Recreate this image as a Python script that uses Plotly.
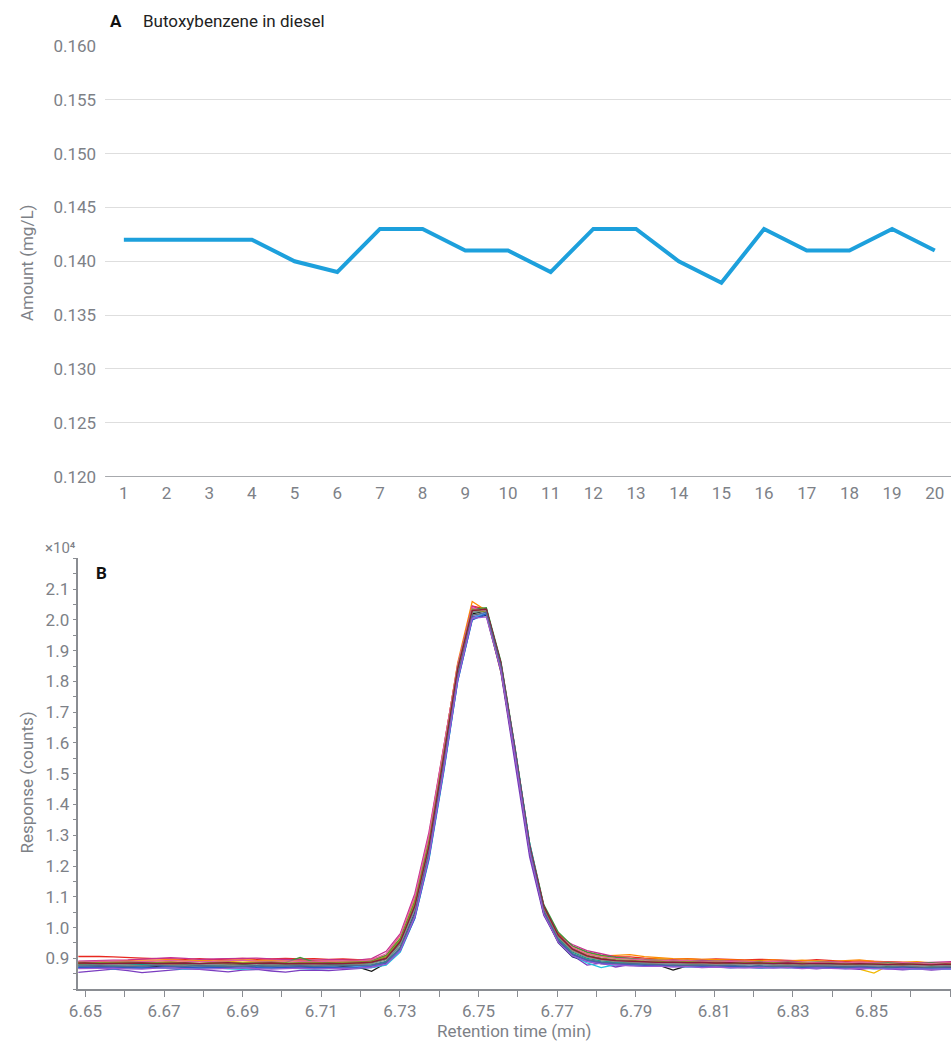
import plotly.graph_objects as go

# ---------------- Panel A data ----------------
injections = list(range(1, 21))
amount_mg_L = [0.142, 0.142, 0.142, 0.142, 0.140, 0.139, 0.143, 0.143, 0.141, 0.141,
               0.139, 0.143, 0.143, 0.140, 0.138, 0.143, 0.141, 0.141, 0.143, 0.141]
amount_ticks = [0.120, 0.125, 0.130, 0.135, 0.140, 0.145, 0.150, 0.155, 0.160]

# ---------------- Panel B data ----------------
retention_min = [6.6462, 6.6498, 6.6535, 6.6571, 6.6608, 6.6644, 6.6681, 6.6717, 6.6754, 6.6790,
                 6.6827, 6.6863, 6.6900, 6.6936, 6.6973, 6.7009, 6.7046, 6.7082, 6.7119, 6.7155,
                 6.7192, 6.7228, 6.7265, 6.7301, 6.7338, 6.7374, 6.7411, 6.7447, 6.7484, 6.7520,
                 6.7557, 6.7593, 6.7630, 6.7666, 6.7703, 6.7739, 6.7776, 6.7812, 6.7849, 6.7885,
                 6.7922, 6.7958, 6.7995, 6.8031, 6.8068, 6.8104, 6.8141, 6.8177, 6.8214, 6.8250,
                 6.8287, 6.8323, 6.8360, 6.8396, 6.8433, 6.8469, 6.8506, 6.8542, 6.8579, 6.8615,
                 6.8652, 6.8688, 6.8725]

resp_01 = [9060, 9070, 9060, 9050, 9040, 9010, 8990, 8980, 8970, 8990, 8960, 8980, 9000, 8970, 8990, 9000, 8980, 8990, 8970, 8980, 8960,
           8950, 9080,
           9600, 10850, 12800, 15600, 18450, 20450, 20350, 18550, 15750, 12650, 10700, 9800, 9400, 9200, 9100, 9060,
           9050, 9010, 9000, 8970, 8990, 8960, 8980, 8970, 8950, 8970, 8960, 8940, 8920, 8960, 8930, 8900, 8920, 8900, 8880, 8870, 8860, 8850, 8860, 8840]
resp_02 = [8860, 8880, 8900, 8910, 8930, 8950, 8940, 8960, 8930, 8940, 8920, 8950, 8960, 8930, 8940, 8920, 8950, 8930, 8920, 8910, 8940,
           8970, 9100,
           9750, 11000, 12950, 15750, 18600, 20600, 20300, 18500, 15700, 12600, 10650, 9750, 9350, 9150, 9080, 9100,
           9120, 9060, 9020, 8990, 8980, 8970, 8950, 8960, 8940, 8930, 8950, 8920, 8940, 8910, 8900, 8930, 8950, 8900, 8880, 8870, 8890, 8850, 8860, 8840]
resp_03 = [8820, 8840, 8870, 8880, 8900, 8890, 8880, 8900, 8920, 8910, 8890, 8900, 8880, 8900, 8910, 8920, 8930, 8890, 8900, 8880, 8900,
           8920, 9050,
           9650, 10950, 13000, 15800, 18550, 20200, 20150, 18300, 15500, 12450, 10600, 9700, 9300, 9150, 9070, 9020,
           8990, 8960, 8980, 8950, 8930, 8940, 8920, 8900, 8910, 8890, 8880, 8900, 8870, 8860, 8880, 8820, 8650, 8520, 8760, 8860, 8870, 8850, 8830, 8820]
resp_04 = [8900, 8920, 8930, 8940, 8950, 8970, 8990, 9020, 9000, 8970, 8980, 8990, 9020, 9010, 8980, 8960, 8950, 8940, 8960, 8950, 8940,
           8990, 9230,
           9800, 11100, 13100, 15800, 18500, 20450, 20250, 18400, 15550, 12500, 10600, 9700, 9450, 9250, 9150, 9050,
           9000, 8960, 8930, 8950, 8920, 8940, 8910, 8920, 8900, 8890, 8900, 8920, 8880, 8870, 8890, 8860, 8850, 8870, 8880, 8860, 8850, 8870, 8880, 8900]
resp_05 = [8520, 8560, 8620, 8650, 8600, 8540, 8580, 8630, 8660, 8640, 8600, 8560, 8620, 8640, 8590, 8550, 8610, 8620, 8600, 8630, 8650,
           8700, 8820,
           9350, 10500, 12500, 15300, 18200, 20100, 20200, 18300, 15400, 12300, 10400, 9550, 9100, 8780, 8850, 8720,
           8800, 8760, 8740, 8780, 8730, 8700, 8720, 8690, 8710, 8680, 8700, 8720, 8690, 8660, 8700, 8680, 8640, 8690, 8660, 8630, 8660, 8620, 8650, 8680]
resp_06 = [8700, 8680, 8690, 8720, 8700, 8680, 8710, 8730, 8700, 8690, 8720, 8700, 8680, 8710, 8690, 8700, 8720, 8680, 8700, 8710, 8690,
           8720, 8820,
           9300, 10400, 12350, 15150, 18100, 20050, 20150, 18350, 15550, 12450, 10450, 9500, 9050, 8900, 8830, 8800,
           8790, 8760, 8780, 8750, 8740, 8760, 8730, 8720, 8740, 8710, 8720, 8700, 8730, 8710, 8690, 8720, 8700, 8680, 8700, 8690, 8670, 8700, 8680, 8690]
resp_07 = [8750, 8760, 8730, 8740, 8770, 8760, 8740, 8750, 8780, 8760, 8740, 8770, 8750, 8730, 8760, 8780, 8750, 8740, 8760, 8740, 8720,
           8580, 8850,
           9350, 10450, 12400, 15250, 18200, 20200, 20300, 18500, 15700, 12550, 10500, 9550, 9150, 8950, 8880, 8850,
           8830, 8800, 8780, 8620, 8760, 8740, 8750, 8730, 8720, 8740, 8710, 8730, 8720, 8700, 8720, 8710, 8690, 8700, 8720, 8700, 8690, 8710, 8700, 8720]
resp_08 = [8850, 8870, 8860, 8880, 8850, 8840, 8860, 8870, 8850, 8830, 8860, 8870, 8840, 8850, 8870, 8860, 9030, 8880, 8860, 8870, 8880,
           8930, 9100,
           9650, 10850, 12800, 15600, 18450, 20350, 20400, 18650, 15850, 12750, 10750, 9850, 9400, 9200, 9100, 9030,
           8990, 8960, 8940, 8920, 8930, 8900, 8910, 8890, 8880, 8900, 8870, 8880, 8860, 8880, 8870, 8850, 8860, 8840, 8860, 8850, 8830, 8850, 8840, 8820]
resp_09 = [8800, 8820, 8790, 8810, 8830, 8800, 8790, 8820, 8810, 8790, 8800, 8820, 8800, 8780, 8810, 8820, 8800, 8790, 8810, 8800, 8820,
           8850, 8980,
           9500, 10700, 12650, 15500, 18350, 20300, 20350, 18600, 15800, 12700, 10700, 9750, 9300, 9080, 8980, 8930,
           8900, 8880, 8870, 8860, 8850, 8870, 8840, 8850, 8830, 8840, 8820, 8830, 8810, 8820, 8800, 8820, 8790, 8810, 8800, 8780, 8790, 8800, 8770, 8790]
resp_10 = [8790, 8780, 8800, 8770, 8790, 8810, 8780, 8760, 8790, 8800, 8770, 8790, 8780, 8760, 8790, 8770, 8780, 8800, 8770, 8790, 8780,
           8800, 8900,
           9450, 10600, 12550, 15400, 18300, 20250, 20300, 18550, 15750, 12650, 10600, 9650, 9200, 9000, 8920, 8880,
           8870, 8850, 8830, 8840, 8820, 8800, 8820, 8790, 8800, 8810, 8780, 8790, 8770, 8790, 8780, 8760, 8770, 8780, 8750, 8760, 8770, 8740, 8760, 8750]
resp_11 = [8680, 8700, 8690, 8660, 8680, 8700, 8690, 8670, 8650, 8680, 8700, 8660, 8640, 8670, 8690, 8680, 8660, 8650, 8670, 8680, 8690,
           8700, 8780,
           9200, 10300, 12200, 15000, 18000, 20000, 20200, 18500, 15800, 12750, 10650, 9600, 9100, 8850, 8700, 8800,
           8780, 8760, 8740, 8750, 8720, 8740, 8710, 8700, 8720, 8690, 8710, 8700, 8680, 8700, 8690, 8670, 8690, 8660, 8680, 8670, 8650, 8670, 8660, 8640]
resp_12 = [8720, 8740, 8710, 8730, 8750, 8720, 8700, 8730, 8740, 8710, 8720, 8740, 8700, 8720, 8710, 8730, 8690, 8720, 8740, 8710, 8730,
           8760, 8860,
           9280, 10350, 12300, 15100, 18050, 20050, 20250, 18550, 15800, 12700, 10600, 9600, 9150, 8950, 8870, 8840,
           8810, 8790, 8780, 8760, 8770, 8740, 8750, 8730, 8720, 8740, 8710, 8720, 8700, 8710, 8690, 8700, 8680, 8690, 8670, 8680, 8660, 8670, 8650, 8660]
resp_13 = [8700, 8710, 8730, 8720, 8700, 8690, 8710, 8730, 8710, 8690, 8700, 8720, 8730, 8700, 8690, 8710, 8720, 8700, 8710, 8690, 8700,
           8740, 8840,
           9250, 10300, 12250, 15050, 18000, 20000, 20200, 18450, 15650, 12550, 10550, 9580, 9120, 8930, 8850, 8810,
           8790, 8770, 8780, 8750, 8760, 8740, 8750, 8730, 8740, 8720, 8730, 8710, 8720, 8700, 8710, 8690, 8700, 8710, 8690, 8700, 8680, 8690, 8700, 8680]
resp_14 = [8820, 8840, 8830, 8810, 8830, 8850, 8820, 8800, 8830, 8820, 8840, 8810, 8820, 8840, 8810, 8830, 8820, 8800, 8830, 8840, 8820,
           8880, 9020,
           9550, 10750, 12700, 15550, 18400, 20300, 20300, 18500, 15700, 12600, 10650, 9700, 9250, 9050, 8960, 8910,
           8880, 8860, 8850, 8830, 8840, 8820, 8830, 8810, 8800, 8820, 8790, 8800, 8780, 8800, 8770, 8790, 8780, 8760, 8780, 8770, 8750, 8770, 8760, 8740]
resp_15 = [8780, 8770, 8790, 8800, 8780, 8760, 8790, 8780, 8770, 8790, 8800, 8780, 8760, 8780, 8790, 8770, 8780, 8790, 8770, 8780, 8790,
           8830, 8950,
           9450, 10600, 12600, 15450, 18350, 20250, 20300, 18550, 15750, 12650, 10650, 9700, 9250, 9050, 8950, 8900,
           8870, 8860, 8840, 8830, 8840, 8810, 8820, 8800, 8810, 8790, 8800, 8780, 8800, 8790, 8770, 8780, 8760, 8780, 8770, 8750, 8770, 8760, 8740, 8750]
resp_16 = [8900, 8890, 8910, 8920, 8900, 8890, 8910, 8930, 8910, 8890, 8900, 8920, 8940, 8910, 8900, 8920, 8910, 8890, 8910, 8900, 8910,
           8950, 9150,
           9750, 11000, 13000, 15750, 18550, 20400, 20250, 18400, 15600, 12550, 10650, 9750, 9350, 9150, 9050, 9000,
           8970, 8950, 8940, 8920, 8930, 8900, 8910, 8890, 8900, 8880, 8900, 8870, 8880, 8860, 8880, 8850, 8870, 8860, 8840, 8860, 8850, 8830, 8850, 8840]
resp_17 = [8860, 8870, 8850, 8860, 8880, 8860, 8850, 8870, 8860, 8840, 8860, 8870, 8850, 8860, 8880, 8850, 8860, 8870, 8850, 8860, 8870,
           8900, 9050,
           9600, 10800, 12750, 15600, 18450, 20350, 20250, 18450, 15650, 12600, 10650, 9750, 9300, 9100, 9010, 8960,
           8930, 8910, 8900, 8880, 8890, 8870, 8880, 8860, 8870, 8850, 8860, 8840, 8850, 8830, 8850, 8820, 8840, 8830, 8810, 8830, 8820, 8800, 8820, 8810]
resp_18 = [8840, 8850, 8830, 8840, 8860, 8850, 8830, 8840, 8850, 8830, 8840, 8860, 8830, 8840, 8850, 8830, 8840, 8850, 8840, 8830, 8850,
           8880, 9000,
           9550, 10700, 12650, 15500, 18400, 20300, 20350, 18600, 15800, 12700, 10700, 9750, 9300, 9080, 8980, 8930,
           8900, 8890, 8870, 8880, 8860, 8870, 8850, 8860, 8840, 8850, 8830, 8850, 8820, 8840, 8830, 8810, 8830, 8820, 8800, 8820, 8810, 8790, 8810, 8800]
resp_19 = [8740, 8750, 8760, 8740, 8730, 8750, 8770, 8750, 8740, 8760, 8750, 8730, 8750, 8760, 8740, 8750, 8760, 8740, 8750, 8740, 8760,
           8780, 8880,
           9350, 10450, 12400, 15250, 18150, 20150, 20250, 18500, 15700, 12600, 10550, 9600, 9150, 8960, 8880, 8840,
           8820, 8800, 8790, 8780, 8770, 8780, 8760, 8770, 8750, 8760, 8740, 8750, 8730, 8750, 8740, 8720, 8740, 8730, 8710, 8730, 8720, 8700, 8720, 8710]
resp_20 = [8660, 8670, 8690, 8680, 8660, 8650, 8680, 8690, 8670, 8650, 8660, 8680, 8690, 8670, 8650, 8670, 8680, 8660, 8670, 8690, 8680,
           8720, 8810,
           9250, 10350, 12300, 15100, 18050, 20050, 20100, 18350, 15550, 12450, 10450, 9520, 9080, 8900, 8820, 8780,
           8760, 8740, 8750, 8720, 8730, 8710, 8720, 8700, 8690, 8710, 8680, 8700, 8670, 8690, 8680, 8660, 8680, 8670, 8650, 8670, 8660, 8640, 8660, 8650]

responses = [resp_01, resp_02, resp_03, resp_04, resp_05, resp_06, resp_07, resp_08, resp_09, resp_10,
             resp_11, resp_12, resp_13, resp_14, resp_15, resp_16, resp_17, resp_18, resp_19, resp_20]
trace_colors = ["#e8281f", "#ff8a00", "#f2b800", "#c5308f", "#7a3cc0", "#1f2d78", "#151515", "#3b9b3b",
                "#2f6b3b", "#169f8c", "#21c3df", "#4a9fe8", "#2a55c8", "#9c5a2e", "#8a8a8a", "#e2609f",
                "#8c922a", "#8b1a3c", "#4f6a90", "#9b5ad2"]
resp_ticks = [0.9, 1.0, 1.1, 1.2, 1.3, 1.4, 1.5, 1.6, 1.7, 1.8, 1.9, 2.0, 2.1]
rt_ticks = [6.65, 6.67, 6.69, 6.71, 6.73, 6.75, 6.77, 6.79, 6.81, 6.83, 6.85]

# ---------------- Figure ----------------
W, H = 951, 1045
FONT = "Roboto"
GRAY = "#7d8187"
AXC = "#8a8d92"


def fx(px):
    return px / W


def fy(py):
    # measured mapping of paper coordinates to screen pixels in the viewer
    return 1 - (py - 9) / 1028


fig = go.Figure()

fig.add_trace(go.Scatter(x=injections, y=amount_mg_L, mode="lines",
                         line=dict(color="#1da0dc", width=4), xaxis="x", yaxis="y",
                         showlegend=False, hoverinfo="x+y"))

for vals, col in zip(responses, trace_colors):
    fig.add_trace(go.Scatter(x=retention_min, y=[v / 1e4 for v in vals], mode="lines",
                             line=dict(color=col, width=1.3), xaxis="x2", yaxis="y2",
                             showlegend=False))

fig.update_layout(
    width=W, height=H,
    margin=dict(l=0, r=0, t=0, b=0),
    paper_bgcolor="white", plot_bgcolor="white",
    font=dict(family=FONT, size=17, color=GRAY),
    xaxis=dict(domain=[fx(97), 1], range=[0.56, 20.38], tickmode="array",
               tickvals=injections, ticktext=[str(i) for i in injections],
               showgrid=False, zeroline=False, showline=False, ticks="",
               ticklabelstandoff=4, anchor="y"),
    yaxis=dict(domain=[fy(477), fy(45)], range=[0.120, 0.160], tickmode="array",
               tickvals=amount_ticks, ticktext=[f"{v:.3f}" for v in amount_ticks],
               showgrid=True, gridcolor="#dedede", gridwidth=1, zeroline=False,
               showline=False, ticks="", ticklabelstandoff=8, anchor="x"),
    xaxis2=dict(domain=[fx(70), 1], range=[6.6482, 6.8702], tickmode="array",
                tickvals=rt_ticks, ticktext=[f"{v:.2f}" for v in rt_ticks],
                showgrid=False, zeroline=False, showline=True, linecolor=AXC,
                linewidth=1.5, ticks="outside", ticklen=6, tickcolor=AXC,
                minor=dict(tickmode="linear", tick0=6.65, dtick=0.01, ticks="outside",
                           ticklen=6, tickcolor=AXC),
                anchor="y2"),
    yaxis2=dict(domain=[fy(991), fy(559)], range=[0.8, 2.2], tickmode="array",
                tickvals=resp_ticks, ticktext=[f"{v:.1f}" for v in resp_ticks],
                showgrid=False, zeroline=False, showline=True, linecolor=AXC,
                linewidth=1.5, ticks="outside", ticklen=4, tickcolor=AXC,
                minor=dict(tickmode="linear", tick0=0.8, dtick=0.05, ticks="outside",
                           ticklen=4, tickcolor=AXC),
                anchor="x2"),
)

annos = [
    dict(text="<b>A</b>", x=fx(100), y=fy(20), xanchor="left", yanchor="middle",
         font=dict(size=17, color="#111111")),
    dict(text="Butoxybenzene in diesel", x=fx(133), y=fy(20), xanchor="left", yanchor="middle",
         font=dict(size=17, color="#222222")),
    dict(text="Amount (mg/L)", x=fx(18), y=fy(262), textangle=-90,
         xanchor="center", yanchor="middle", font=dict(size=17, color=GRAY)),
    dict(text="×10⁴", x=fx(52), y=fy(549), xanchor="center", yanchor="middle",
         font=dict(size=15, color=GRAY)),
    dict(text="<b>B</b>", x=fx(86), y=fy(574), xanchor="left", yanchor="middle",
         font=dict(size=17, color="#111111")),
    dict(text="Response (counts)", x=fx(18), y=fy(784), textangle=-90,
         xanchor="center", yanchor="middle", font=dict(size=17, color=GRAY)),
    dict(text="Retention time (min)", x=fx(510), y=fy(1033), xanchor="center", yanchor="middle",
         font=dict(size=17, color=GRAY)),
]
for a in annos:
    a.update(xref="paper", yref="paper", showarrow=False)
    fig.add_annotation(**a)

# Panel A bottom axis line
fig.add_shape(type="line", xref="paper", yref="y", x0=fx(97), x1=1, y0=0.120, y1=0.120,
              line=dict(color=AXC, width=1.5))

fig.write_html("out.html", config={"displayModeBar": False},
               post_script="document.body.style.margin='0';document.body.style.overflow='hidden';")
